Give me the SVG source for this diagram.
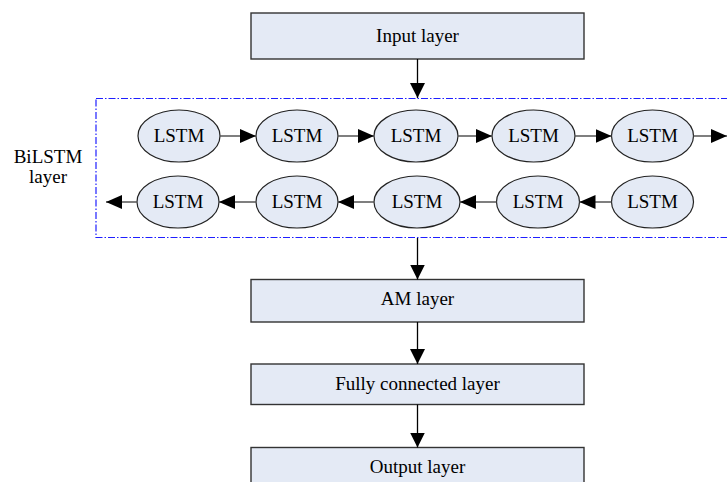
<svg xmlns="http://www.w3.org/2000/svg" width="727" height="482" viewBox="0 0 727 482">
  <defs>
    <marker id="head" viewBox="0 0 16 14" refX="16" refY="7" markerWidth="16" markerHeight="14" markerUnits="userSpaceOnUse" orient="auto">
      <path d="M0,0 L16,7 L0,14 Z" fill="#000"/>
    </marker>
    <marker id="headV" viewBox="0 0 15 15" refX="15" refY="7.5" markerWidth="15" markerHeight="15" markerUnits="userSpaceOnUse" orient="auto">
      <path d="M0,0 L15,7.5 L0,15 Z" fill="#000"/>
    </marker>
  </defs>
  <style>
    .box { fill: #e4eaf5; stroke: #333; stroke-width: 1.4; }
    .cell { fill: #e4eaf5; stroke: #222; stroke-width: 1.2; }
    text { font-family: 'Liberation Serif', 'Times New Roman', serif; font-size: 19px; fill: #000; text-anchor: middle; }
    .h { stroke: #555; stroke-width: 1.5; fill: none; marker-end: url(#head); }
    .v { stroke: #000; stroke-width: 1.3; fill: none; marker-end: url(#headV); }
    .frame { fill: none; stroke: #1f1fff; stroke-width: 1.2; stroke-dasharray: 7 2 1.5 2; }
  </style>
  <rect width="727" height="482" fill="#fff"/>

  <!-- BiLSTM container frame and caption -->
  <g id="bilstm">
    <rect class="frame" x="96" y="98.5" width="640" height="139"/>
    <text x="48" y="163">BiLSTM</text>
    <text x="48" y="183">layer</text>
  </g>

  <g id="input"><rect class="box" x="251" y="13" width="333" height="46"/><text x="417.5" y="42">Input layer</text></g>
  <g id="am"><rect class="box" x="251" y="279.5" width="333" height="42.5"/><text x="417.5" y="305">AM layer</text></g>
  <g id="fc"><rect class="box" x="251" y="364" width="333" height="40.5"/><text x="417.5" y="390">Fully connected layer</text></g>
  <g id="output"><rect class="box" x="251" y="447.5" width="333" height="40"/><text x="417.5" y="473">Output layer</text></g>

  <!-- forward cells -->
  <g id="f1"><ellipse class="cell" cx="179" cy="136" rx="41" ry="26"/><text x="179" y="142">LSTM</text></g>
  <g id="f2"><ellipse class="cell" cx="297" cy="136" rx="41" ry="26"/><text x="297" y="142">LSTM</text></g>
  <g id="f3"><ellipse class="cell" cx="416" cy="136" rx="42" ry="26"/><text x="416" y="142">LSTM</text></g>
  <g id="f4"><ellipse class="cell" cx="533.5" cy="136" rx="41.5" ry="26"/><text x="533.5" y="142">LSTM</text></g>
  <g id="f5"><ellipse class="cell" cx="652.5" cy="136" rx="41" ry="26"/><text x="652.5" y="142">LSTM</text></g>

  <!-- backward cells -->
  <g id="b1"><ellipse class="cell" cx="178" cy="202" rx="41" ry="26"/><text x="178" y="208">LSTM</text></g>
  <g id="b2"><ellipse class="cell" cx="297" cy="202" rx="41" ry="26"/><text x="297" y="208">LSTM</text></g>
  <g id="b3"><ellipse class="cell" cx="417" cy="202" rx="43" ry="26"/><text x="417" y="208">LSTM</text></g>
  <g id="b4"><ellipse class="cell" cx="538" cy="202" rx="41.5" ry="26"/><text x="538" y="208">LSTM</text></g>
  <g id="b5"><ellipse class="cell" cx="652.5" cy="202" rx="41" ry="26"/><text x="652.5" y="208">LSTM</text></g>

  <g id="connectors">
    <line class="v" x1="417.5" y1="59" x2="417.5" y2="98"/>
    <line class="v" x1="417.5" y1="238" x2="417.5" y2="279.5"/>
    <line class="v" x1="417.5" y1="322" x2="417.5" y2="364"/>
    <line class="v" x1="417.5" y1="404.5" x2="417.5" y2="447.5"/>

    <line class="h" x1="220" y1="136" x2="256" y2="136"/>
    <line class="h" x1="338" y1="136" x2="374" y2="136"/>
    <line class="h" x1="458" y1="136" x2="492" y2="136"/>
    <line class="h" x1="575" y1="136" x2="611.5" y2="136"/>
    <line class="h" x1="693.5" y1="136" x2="727" y2="136"/>

    <line class="h" x1="611.5" y1="202" x2="579.5" y2="202"/>
    <line class="h" x1="496.5" y1="202" x2="460" y2="202"/>
    <line class="h" x1="374" y1="202" x2="338" y2="202"/>
    <line class="h" x1="256" y1="202" x2="219" y2="202"/>
    <line class="h" x1="137" y1="202" x2="106" y2="202"/>
  </g>
</svg>
